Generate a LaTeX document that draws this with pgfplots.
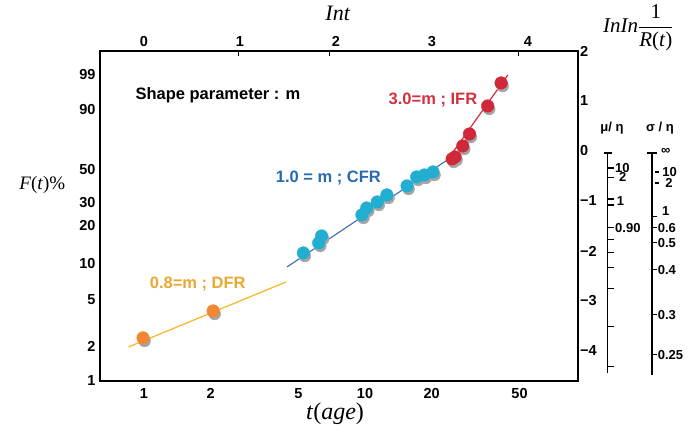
\documentclass[border=0pt]{standalone}
\usepackage{fontspec}
\setmainfont{Liberation Serif}
\setsansfont{Liberation Sans}
\usepackage{amsmath}
\usepackage{pgfplots}
\pgfplotsset{compat=1.18}

\definecolor{dfrmark}{RGB}{240,135,50}
\definecolor{dfrline}{RGB}{246,186,48}
\definecolor{dfrtext}{RGB}{232,168,48}
\definecolor{cfrmark}{RGB}{34,174,208}
\definecolor{cfrline}{RGB}{58,110,176}
\definecolor{cfrtext}{RGB}{40,106,174}
\definecolor{ifrmark}{RGB}{208,40,56}
\definecolor{ifrline}{RGB}{210,48,62}
\definecolor{shade}{RGB}{165,165,165}

\newcommand{\tfont}{\sffamily\bfseries\fontsize{14.5}{14.5}\selectfont}
\newcommand{\nfont}{\sffamily\bfseries\fontsize{13}{13}\selectfont}
\newcommand{\lfont}{\sffamily\bfseries\fontsize{16.5}{16.5}\selectfont}

% x = ln t, y = ln ln 1/R(t)
\pgfplotstableread{
x y
-0.01 -3.74
0.72 -3.20
}\dfr
\pgfplotstableread{
x y
1.66 -2.04
1.82 -1.84
1.85 -1.70
2.27 -1.28
2.32 -1.14
2.43 -1.02
2.53 -0.88
2.74 -0.70
2.84 -0.52
2.92 -0.48
3.01 -0.42
}\cfr
\pgfplotstableread{
x y
3.21 -0.16
3.24 -0.12
3.32 0.10
3.39 0.34
3.58 0.90
3.72 1.36
}\ifr

\begin{document}
\begin{tikzpicture}
\pgfplotsset{base/.style={
  width=478pt, height=330pt, scale only axis,
  xmin=-0.458, xmax=4.52, ymin=-4.60, ymax=2,
  clip=false, ticklabel style={font=\tfont}},
  shadow/.style={only marks, mark=*, mark size=6pt, color=shade,
  mark options={draw=shade, fill=shade, xshift=1.5pt, yshift=-3pt}},
  pts/.style={only marks, mark=*, mark size=6.3pt, color=#1,
  mark options={draw=#1, fill=#1}}}

\begin{axis}[base,
  axis line style={line width=2.6pt},
  xtick pos=lower, ytick pos=left,
  major tick length=0pt,
  xtick={0,0.6931,1.6094,2.3026,2.9957,3.9120},
  xticklabels={1,2,5,10,20,50},
  ytick={-4.600,-3.902,-2.970,-2.250,-1.500,-1.031,-0.3665,0.834,1.527},
  yticklabels={1,2,5,10,20,30,50,90,99},
  xticklabel style={yshift=-4pt},
  yticklabel style={xshift=-1pt},
]
% shadows
\addplot[shadow] table {\dfr};
\addplot[shadow] table {\cfr};
\addplot[shadow] table {\ifr};
% fitted lines
\addplot[dfrline, line width=1.3pt] coordinates {(-0.16,-3.92) (1.48,-2.62)};
\addplot[cfrline, line width=1.1pt] coordinates {(1.49,-2.32) (3.16,-0.18)};
\addplot[ifrline, line width=1.2pt] coordinates {(3.16,-0.18) (3.79,1.52)};
% points
\addplot[pts=dfrmark] table {\dfr};
\addplot[pts=cfrmark] table {\cfr};
\addplot[pts=ifrmark] table {\ifr};

\node[font=\lfont] at (axis cs:0.77,1.12) {Shape parameter : m};
\node[font=\lfont, text=ifrline] at (axis cs:3.01,1.02) {3.0=m ; IFR};
\node[font=\lfont, text=cfrtext] at (axis cs:1.92,-0.54) {1.0 = m ; CFR};
\node[font=\lfont, text=dfrtext] at (axis cs:0.56,-2.66) {0.8=m ; DFR};

\node[font=\fontsize{19}{19}\selectfont] at (axis cs:-1.06,-0.68) {\textit{F}(\textit{t})\%};
\node[font=\fontsize{24}{24}\selectfont] at (axis cs:1.99,-5.25) {\textit{t}(\textit{age})};
\end{axis}

\begin{axis}[base,
  axis line style={draw=none},
  xtick pos=upper, xticklabel pos=upper,
  ytick pos=right, yticklabel pos=right,
  xtick={0,1,2,3,4}, xticklabels={0,1,2,3,4},
  major tick length=0pt,
  extra x ticks={0.98,1.93,3.90}, extra x tick labels={},
  extra x tick style={major tick length=5pt, tick style={line width=0.8pt, black}},
  ytick={-4,-3,-2,-1,0,1,2},
  yticklabels={−4,−3,−2,−1,0,1,2},
  yticklabel style={anchor=west, inner sep=1pt, xshift=1pt},
  xticklabel style={yshift=1pt},
]
\path (axis cs:-1.5,-5.64) rectangle (axis cs:5.677,3.02);

\node[font=\fontsize{22}{22}\selectfont] at (axis cs:2.02,2.76) {\textit{Int}};
\node[font=\fontsize{21}{21}\selectfont] at (axis cs:5.15,2.46) {\textit{InIn}$\dfrac{\text{1}}{\text{\textit{R}(\textit{t})}}$};

\node[font=\nfont] at (axis cs:4.875,0.46) {μ/ η};
\node[font=\nfont] at (axis cs:5.375,0.46) {σ / η};

% mu/eta scale
\draw[line width=1.6pt] (axis cs:4.83,-0.04) -- (axis cs:4.83,-4.44);
\draw[line width=1.2pt] ([xshift=-4pt]axis cs:4.83,-0.04) -- ++(8pt,0pt);
\draw[line width=1.1pt] (axis cs:4.83,-0.34) -- ++(6pt,0pt) node[right, inner sep=1pt, font=\nfont] {10};
\draw[line width=1.1pt] (axis cs:4.83,-0.53) -- ++(6pt,0pt) node[right, inner sep=1pt, xshift=4pt, font=\nfont] {2};
\draw[line width=1.1pt] (axis cs:4.83,-0.96) -- ++(6pt,0pt);
\draw[line width=1.1pt] (axis cs:4.83,-1.08) -- ++(6pt,0pt);
\node[right, inner sep=1pt, font=\nfont] at ([xshift=8pt]axis cs:4.83,-1.0) {1};
\draw[line width=1.1pt] (axis cs:4.83,-1.54) -- ++(6pt,0pt) node[right, inner sep=1pt, font=\nfont] {0.90};
\draw[line width=1.1pt] (axis cs:4.83,-1.78) -- ++(6pt,0pt);
\draw[line width=1.1pt] (axis cs:4.83,-2.04) -- ++(6pt,0pt);
\draw[line width=1.1pt] (axis cs:4.83,-2.34) -- ++(6pt,0pt);
\draw[line width=1.1pt] (axis cs:4.83,-2.76) -- ++(6pt,0pt);
\draw[line width=1.1pt] (axis cs:4.83,-3.52) -- ++(6pt,0pt);
\draw[line width=1.1pt] (axis cs:4.83,-4.32) -- ++(6pt,0pt);

% sigma/eta scale
\draw[line width=1.6pt] (axis cs:5.29,-0.04) -- (axis cs:5.29,-4.48);
\draw[line width=1.2pt] ([xshift=-5pt]axis cs:5.29,-0.04) -- ++(10pt,0pt);
\node[right, inner sep=1pt, font=\nfont] at ([xshift=8pt]axis cs:5.29,0.0) {∞};
\draw[line width=1.1pt] ([xshift=3pt]axis cs:5.29,-0.42) -- ++(4pt,0pt) node[right, inner sep=1pt, xshift=2pt, font=\nfont] {10};
\draw[line width=1.1pt] ([xshift=3pt]axis cs:5.29,-0.64) -- ++(4pt,0pt) node[right, inner sep=1pt, xshift=5pt, font=\nfont] {2};
\draw[line width=1.1pt] (axis cs:5.29,-1.32) -- ++(5pt,0pt);
\node[right, inner sep=1pt, font=\nfont] at ([xshift=9pt]axis cs:5.29,-1.20) {1};
\draw[line width=1.1pt] (axis cs:5.29,-1.54) -- ++(5pt,0pt) node[right, inner sep=0.5pt, font=\nfont] {0.6};
\draw[line width=1.1pt] (axis cs:5.29,-1.84) -- ++(5pt,0pt) node[right, inner sep=0.5pt, font=\nfont] {0.5};
\draw[line width=1.1pt] (axis cs:5.29,-2.38) -- ++(5pt,0pt) node[right, inner sep=0.5pt, font=\nfont] {0.4};
\draw[line width=1.1pt] (axis cs:5.29,-3.28) -- ++(5pt,0pt) node[right, inner sep=0.5pt, font=\nfont] {0.3};
\draw[line width=1.1pt] (axis cs:5.29,-4.08) -- ++(5pt,0pt) node[right, inner sep=0.5pt, font=\nfont] {0.25};
\end{axis}
\end{tikzpicture}
\end{document}
